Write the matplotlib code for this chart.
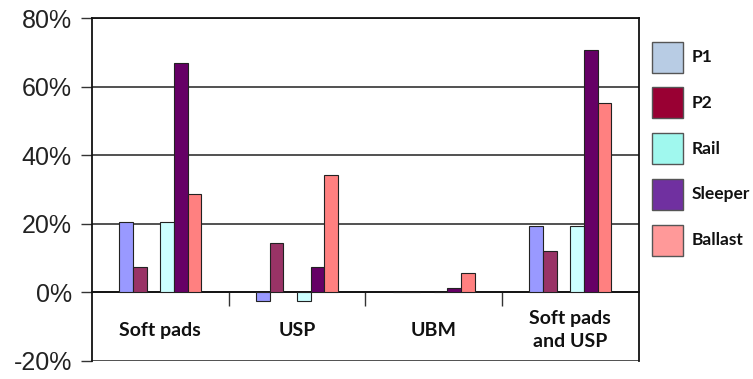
import matplotlib
matplotlib.use("Agg")
import matplotlib.pyplot as plt
from matplotlib.patches import Rectangle
import numpy as np

# Share of vibration reduction per component, by mitigation measure
categories = ["Soft pads", "USP", "UBM", "Soft pads\nand USP"]
series = ["P1", "P2", "Rail", "Sleeper", "Ballast"]
p1 = [20.5, -2.4, 0.0, 19.3]
p2 = [7.4, 14.3, 0.0, 12.0]
rail = [20.5, -2.4, 0.0, 19.3]
sleeper = [66.9, 7.4, 1.4, 70.7]
ballast = [28.6, 34.2, 5.8, 55.1]
values = [p1, p2, rail, sleeper, ballast]

bar_colors = ["#9999ff", "#993366", "#ccffff", "#660066", "#ff8080"]
legend_colors = ["#b8cce4", "#990033", "#a0f8ee", "#7030a0", "#ff9999"]
# slot of each series inside a group (slot 2 is left empty)
slots = [-2.5, -1.5, 0.5, 1.5, 2.5]
yticks = [-20, 0, 20, 40, 60, 80]

fig = plt.figure(figsize=(7.53, 3.79), dpi=100)
ax = fig.add_axes([0.1222, 0.0475, 0.7258, 0.905])

x = np.arange(len(categories))
w = 0.1
for vals, col, s in zip(values, bar_colors, slots):
    ax.bar(x + s * w, vals, width=w, color=col, edgecolor="#222222",
           linewidth=0.8, zorder=3)

ax.set_xlim(-0.5, 3.5)
ax.set_ylim(-20, 80)
ax.set_yticks(yticks)
ax.set_yticklabels([f"{t}%" for t in yticks], fontsize=18,
                   family="Liberation Sans", color="#222222")
ax.yaxis.grid(True, color="#333333", linewidth=1.2, zorder=0)
ax.set_axisbelow(True)

# category axis sits on the zero line
ax.spines["bottom"].set_position(("data", 0))
for sp in ["top", "left", "right", "bottom"]:
    ax.spines[sp].set_color("#111111")
    ax.spines[sp].set_linewidth(1.3)
ax.set_xticks([0.5, 1.5, 2.5])
ax.set_xticklabels([])
ax.tick_params(axis="x", direction="out", length=10, width=1, color="#333333")
ax.tick_params(axis="y", direction="out", length=8, width=1, color="#333333", pad=6.5)

for xi, name in zip(x, categories):
    ax.text(xi, -11.0, name, ha="center", va="center", fontsize=14,
            fontweight="bold", family="Lato", color="#111111", linespacing=1.45)

# legend drawn as separate boxes on the right
box = 31 / 753
for i, (name, col) in enumerate(zip(series, legend_colors)):
    yc = 1 - (57.3 + i * 45.7) / 379
    fig.add_artist(Rectangle((652 / 753, yc - 15.5 / 379), box, 31 / 379,
                             facecolor=col, edgecolor="#555555", linewidth=1,
                             transform=fig.transFigure))
    fig.text(692 / 753, yc, name, ha="left", va="center", fontsize=12.5,
             fontweight="bold", family="Lato", color="#111111")

fig.savefig("out.png", dpi=100)
